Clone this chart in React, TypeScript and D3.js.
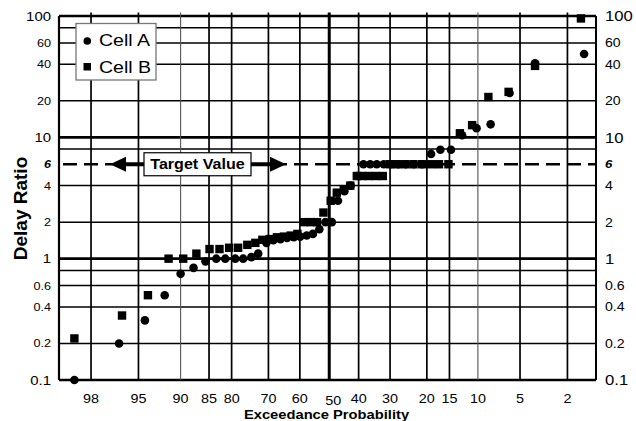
import React from "react";
import * as d3 from "d3";

// ---- Data ----
const cellAProb = [98.6, 96.5, 94.4, 92.2, 90.0, 87.9, 85.7, 83.5, 81.5, 79.1, 77.1, 74.9, 73.0, 70.6, 68.5, 66.3, 64.2, 62.0, 59.9, 57.7, 55.6, 53.4, 51.3, 49.1, 47.0, 44.8, 42.7, 40.5, 38.4, 36.2, 34.1, 31.9, 29.8, 27.6, 25.5, 23.3, 21.2, 19.0, 16.9, 14.7, 12.6, 10.2, 8.2, 6.0, 3.8, 1.4];
const cellAValue = [0.1, 0.2, 0.31, 0.5, 0.75, 0.84, 0.95, 1.0, 1.0, 1.0, 1.0, 1.03, 1.1, 1.35, 1.42, 1.45, 1.48, 1.5, 1.52, 1.55, 1.6, 1.75, 2.0, 2.0, 3.0, 3.6, 4.0, 4.8, 6, 6, 6, 6, 6, 6, 6, 6, 6, 7.3, 7.9, 7.9, 10.4, 11.9, 12.8, 23.2, 40.8, 48.6];

const cellBProb = [98.6, 96.3, 94.1, 91.7, 89.6, 87.4, 84.9, 82.8, 80.6, 78.4, 76.0, 73.8, 71.8, 69.6, 67.4, 65.2, 63.0, 60.8, 58.6, 56.4, 54.2, 52.0, 49.5, 47.4, 45.0, 42.8, 40.6, 38.8, 36.6, 34.4, 32.2, 30.0, 27.8, 25.6, 23.4, 21.2, 19.0, 17.2, 15.2, 13.0, 10.9, 8.5, 6.1, 3.8, 1.5];
const cellBValue = [0.22, 0.34, 0.5, 1.0, 1.0, 1.1, 1.2, 1.2, 1.23, 1.23, 1.3, 1.35, 1.43, 1.45, 1.5, 1.52, 1.55, 1.6, 2.0, 2.0, 2.0, 2.4, 3.0, 3.5, 3.7, 4.0, 4.8, 4.8, 4.8, 4.8, 4.8, 6, 6, 6, 6, 6, 6, 6, 6, 10.8, 12.6, 21.5, 23.7, 38.8, 95.5];

const xTicks = [98, 95, 90, 85, 80, 70, 60, 50, 40, 30, 20, 15, 10, 5, 2];
const yGridValues = [0.1, 0.2, 0.4, 0.6, 0.8, 1, 2, 4, 8, 10, 20, 40, 60, 80, 100];
const yMajorValues = [0.1, 1, 10, 100];
const yLabelValues = [100, 60, 40, 20, 10, 6, 4, 2, 1, 0.6, 0.4, 0.2, 0.1];
const targetValue = 6;
const legendLabels = ["Cell A", "Cell B"];

// ---- inverse normal CDF (Acklam) ----
function invNorm(p: number): number {
  const a = [-3.969683028665376e1, 2.209460984245205e2, -2.759285104469687e2, 1.38357751867269e2, -3.066479806614716e1, 2.506628277459239];
  const b = [-5.447609879822406e1, 1.615858368580409e2, -1.556989798598866e2, 6.680131188771972e1, -1.328068155288572e1];
  const c = [-7.784894002430293e-3, -3.223964580411365e-1, -2.400758307670744, -2.549732539343734, 4.374664141464968, 2.938163982698783];
  const d = [7.784695709041462e-3, 3.224671290700398e-1, 2.445134137142996, 3.754408661907416];
  const plow = 0.02425;
  if (p < plow) {
    const q = Math.sqrt(-2 * Math.log(p));
    return (((((c[0] * q + c[1]) * q + c[2]) * q + c[3]) * q + c[4]) * q + c[5]) / ((((d[0] * q + d[1]) * q + d[2]) * q + d[3]) * q + 1);
  }
  if (p <= 1 - plow) {
    const q = p - 0.5;
    const r = q * q;
    return ((((((a[0] * r + a[1]) * r + a[2]) * r + a[3]) * r + a[4]) * r + a[5]) * q) / (((((b[0] * r + b[1]) * r + b[2]) * r + b[3]) * r + b[4]) * r + 1);
  }
  const q = Math.sqrt(-2 * Math.log(1 - p));
  return -(((((c[0] * q + c[1]) * q + c[2]) * q + c[3]) * q + c[4]) * q + c[5]) / ((((d[0] * q + d[1]) * q + d[2]) * q + d[3]) * q + 1);
}

const W = 636;
const H = 421;
const L = 59, R = 596, T = 16, B = 380;
const FONT = "'Liberation Sans', Arial, Helvetica, sans-serif";
const SX = 1.15;

const zScale = d3.scaleLinear().domain([2.33, -2.3]).range([L, R]);
const xOf = (p: number) => zScale(invNorm(p / 100));
const y = d3.scaleLog().domain([0.1, 100]).range([B, T]);

const fmt = (v: number) => (v < 1 ? String(v) : d3.format("d")(v));

function Txt(props: { x: number; y: number; size: number; anchor?: string; weight?: string | number; italic?: boolean; children: React.ReactNode; sx?: number }) {
  const { x, y: yy, size, anchor = "start", weight = "normal", italic = false, children, sx = SX } = props;
  return (
    <text
      transform={`translate(${x},${yy}) scale(${sx},1)`}
      fontFamily={FONT}
      fontSize={size}
      fontWeight={weight}
      fontStyle={italic ? "italic" : "normal"}
      textAnchor={anchor}
      fill="#000"
    >
      {children}
    </text>
  );
}

export default function App() {
  const dataA = cellAProb.map((p, i) => ({ p, v: cellAValue[i] }));
  const dataB = cellBProb.map((p, i) => ({ p, v: cellBValue[i] }));
  const yT = y(targetValue);

  const vWidth = (t: number) => (t === 50 ? 3 : t === 90 || t === 10 ? 1.1 : 1.7);
  const vColor = (t: number) => (t === 90 || t === 10 ? "#555" : "#000");

  return (
    <svg width={W} height={H} style={{ position: "absolute", left: 0, top: 0, background: "#fff" }}>
      <rect x={0} y={0} width={W} height={H} fill="#fff" />
      {/* horizontal grid */}
      {yGridValues.map((v) => {
        const major = yMajorValues.includes(v);
        return <line key={"h" + v} x1={L} x2={R} y1={y(v)} y2={y(v)} stroke="#000" strokeWidth={major ? 2.6 : 1.5} />;
      })}
      {/* vertical grid */}
      {xTicks.map((t) => (
        <line key={"v" + t} x1={xOf(t)} x2={xOf(t)} y1={T - 3.5} y2={B} stroke={vColor(t)} strokeWidth={vWidth(t)} />
      ))}
      <line x1={L} x2={L} y1={T} y2={B} stroke="#000" strokeWidth={2.2} />
      <line x1={R} x2={R} y1={T} y2={B} stroke="#000" strokeWidth={2} />

      {/* target dashed line */}
      <line x1={L + 4} x2={R} y1={yT} y2={yT} stroke="#000" strokeWidth={2.4} strokeDasharray="14 7" />
      {/* target arrows and box */}
      <g>
        <rect x={125} y={yT - 2} width={20} height={4} fill="#000" />
        <polygon points={`110,${yT} 126,${yT - 7.5} 126,${yT + 7.5}`} fill="#000" />
        <rect x={251} y={yT - 2} width={20} height={4} fill="#000" />
        <polygon points={`286,${yT} 270,${yT - 7.5} 270,${yT + 7.5}`} fill="#000" />
        <rect x={144} y={yT - 11.5} width={107} height={23} fill="#fff" stroke="#000" strokeWidth={1.2} />
        <Txt x={197.5} y={yT + 5.2} size={14} anchor="middle" weight="bold">Target Value</Txt>
      </g>

      {/* data */}
      {dataA.map((d, i) => (
        <circle key={"a" + i} cx={xOf(d.p)} cy={y(d.v)} r={4.3} fill="#000" />
      ))}
      {dataB.map((d, i) => (
        <rect key={"b" + i} x={xOf(d.p) - 4.2} y={y(d.v) - 4.2} width={8.4} height={8.4} fill="#000" />
      ))}

      {/* legend */}
      <rect x={76} y={23.5} width={80} height={56.5} fill="#fff" stroke="#777" strokeWidth={1.3} />
      <circle cx={87.3} cy={41} r={3.8} fill="#000" />
      <Txt x={99} y={45.7} size={17}>{legendLabels[0]}</Txt>
      <rect x={83.5} y={63} width={7.5} height={7.5} fill="#000" />
      <Txt x={99} y={73} size={17}>{legendLabels[1]}</Txt>

      {/* left y labels */}
      {yLabelValues.map((v) => {
        const major = yMajorValues.includes(v);
        const isT = v === targetValue;
        const size = major ? 13 : isT ? 11 : 11;
        return (
          <Txt key={"yl" + v} x={51} y={y(v) + size * 0.36} size={size} anchor="end" weight={isT ? "bold" : "normal"} italic={isT}>
            {fmt(v)}
          </Txt>
        );
      })}
      {/* right y labels */}
      {yLabelValues.map((v) => {
        const major = yMajorValues.includes(v);
        const isT = v === targetValue;
        const size = major ? 14.5 : isT ? 11.5 : 12.3;
        return (
          <Txt key={"yr" + v} x={605} y={y(v) + size * 0.36} size={size} anchor="start" weight={isT ? "bold" : "normal"} italic={isT}>
            {fmt(v)}
          </Txt>
        );
      })}

      {/* x tick labels */}
      {xTicks.map((t) => (
        <Txt key={"xl" + t} x={xOf(t) + (t === 50 ? 4 : 0)} y={t === 50 ? 405 : 403} size={12.5} anchor="middle">
          {String(t)}
        </Txt>
      ))}

      {/* axis titles */}
      <Txt x={326.5} y={418.5} size={12.8} anchor="middle" weight="bold">Exceedance Probability</Txt>
      <text transform="translate(27,208.5) rotate(-90)" fontFamily={FONT} fontSize={19} fontWeight="bold" textAnchor="middle" fill="#000">
        Delay Ratio
      </text>
    </svg>
  );
}
